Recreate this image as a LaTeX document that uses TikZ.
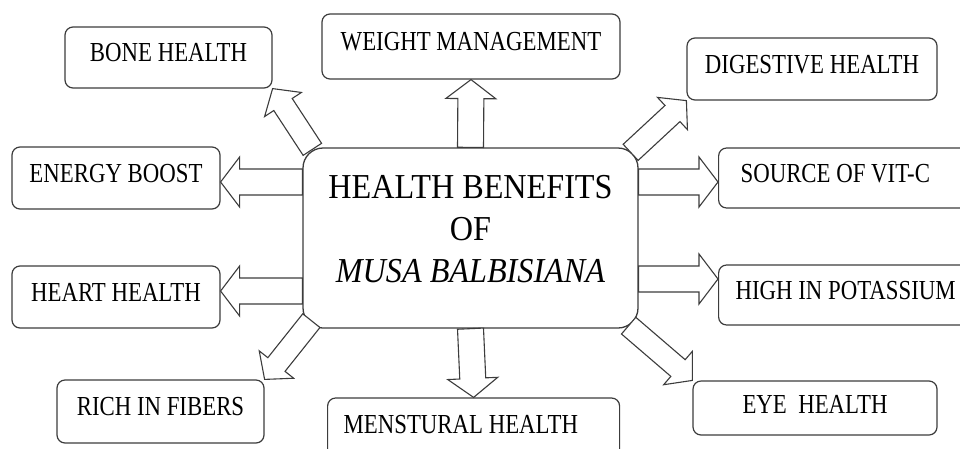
\documentclass[tikz,border=0pt]{standalone}
\usepackage{fontspec}
\setmainfont{Liberation Serif}
\newfontfamily\boxfont{Liberation Serif}[FakeStretch=0.83]
\newfontfamily\hubfont{Liberation Serif}[FakeStretch=0.92]
\usetikzlibrary{calc}

\definecolor{linegray}{HTML}{3C3C3C}

% hollow block arrow: from, to, shaft half width, head half width
\newcommand\benefitarrow[4]{%
  \coordinate (headbase) at ($(#2)!19pt!(#1)$);
  \draw[blockarrow] ($(#1)!#3pt!90:(#2)$) -- ($(headbase)!#3pt!-90:(#1)$)
    -- ($(headbase)!#4pt!-90:(#1)$) -- (#2) -- ($(headbase)!#4pt!90:(#1)$)
    -- ($(headbase)!#3pt!90:(#1)$) -- ($(#1)!#3pt!-90:(#2)$) -- cycle;
}

\tikzset{
  benefit/.style={draw=linegray, line width=1.2pt, rounded corners=8pt, fill=white,
    font=\boxfont\fontsize{27.5}{30}\selectfont, text height=19pt, text depth=11pt, inner sep=0pt},
  hub/.style={draw=linegray, line width=1.3pt, rounded corners=20pt, fill=white},
  blockarrow/.style={draw=linegray, line width=1.1pt, fill=white, line join=miter},
}

\begin{document}
\begin{tikzpicture}[x=1pt, y=-1pt]
\useasboundingbox (0,0) rectangle (960,448);

\node [hub, minimum width=335pt, minimum height=180pt] (hub) at (470.5,238) {};
\node [font=\hubfont\fontsize{35}{42}\selectfont, align=center] (hubtext) at (470.5,229)
  {HEALTH BENEFITS\\OF\\\textit{MUSA BALBISIANA}};

\node [benefit, minimum width=207pt, minimum height=61pt] (bone) at (168.5,57.5) {BONE HEALTH};
\node [benefit, minimum width=298pt, minimum height=65pt] (weight) at (471,46.5) {WEIGHT MANAGEMENT};
\node [benefit, minimum width=250pt, minimum height=62pt] (digestive) at (812,69) {DIGESTIVE HEALTH};
\node [benefit, minimum width=208pt, minimum height=62pt] (energy) at (116,178) {ENERGY BOOST};
\node [benefit, minimum width=208pt, minimum height=62pt] (heart) at (116,297) {HEART HEALTH};
\node [benefit, minimum width=207pt, minimum height=63pt] (fibers) at (160.5,411.5) {RICH IN FIBERS};
\node [benefit, minimum width=244pt, minimum height=54pt, text depth=9pt] (eye) at (815,408) {EYE\ \ HEALTH};
\node [benefit, anchor=west, minimum height=60pt, inner xsep=22pt, text width=215pt, align=flush left]
  (vitc) at (718,178) {SOURCE OF VIT-C};
\node [benefit, anchor=west, minimum height=60pt, inner xsep=17pt, text width=225pt, align=flush left]
  (potassium) at (718,295) {HIGH IN POTASSIUM};
\node [benefit, anchor=west, minimum height=62pt, inner xsep=16pt, text width=260pt, align=flush left]
  (menstrual) at (327,429) {MENSTURAL HEALTH};

% arrow feet and tips
\coordinate (energytip) at ($(energy.east)+(0,4)$);
\coordinate (energyfoot) at (hub.west |- energytip);
\coordinate (hearttip) at ($(heart.east)+(0,-6)$);
\coordinate (heartfoot) at (hub.west |- hearttip);
\coordinate (vitctip) at ($(vitc.west)+(0,4)$);
\coordinate (vitcfoot) at (hub.east |- vitctip);
\coordinate (pottip) at ($(potassium.west)+(0,-16)$);
\coordinate (potfoot) at (hub.east |- pottip);
\coordinate (bonefoot) at ($(hub.north west)+(10,2)$);
\coordinate (digestfoot) at ($(hub.north east)+(-8,5)$);
\coordinate (fiberfoot) at ($(hub.south west)+(9,-8)$);
\coordinate (eyefoot) at ($(hub.south east)+(-10,-3)$);

\foreach \from/\to in {hub.north/weight.south, hub.south/menstrual.north, energyfoot/energytip,
    heartfoot/hearttip, vitcfoot/vitctip, potfoot/pottip}{
  \benefitarrow{\from}{\to}{13}{25}; % straight arrows
}
\foreach \from/\to in {bonefoot/bone.south east, digestfoot/digestive.south west,
    fiberfoot/fibers.north east, eyefoot/eye.north west}{
  \benefitarrow{\from}{\to}{11}{22}; % corner arrows
}

\end{tikzpicture}
\end{document}
